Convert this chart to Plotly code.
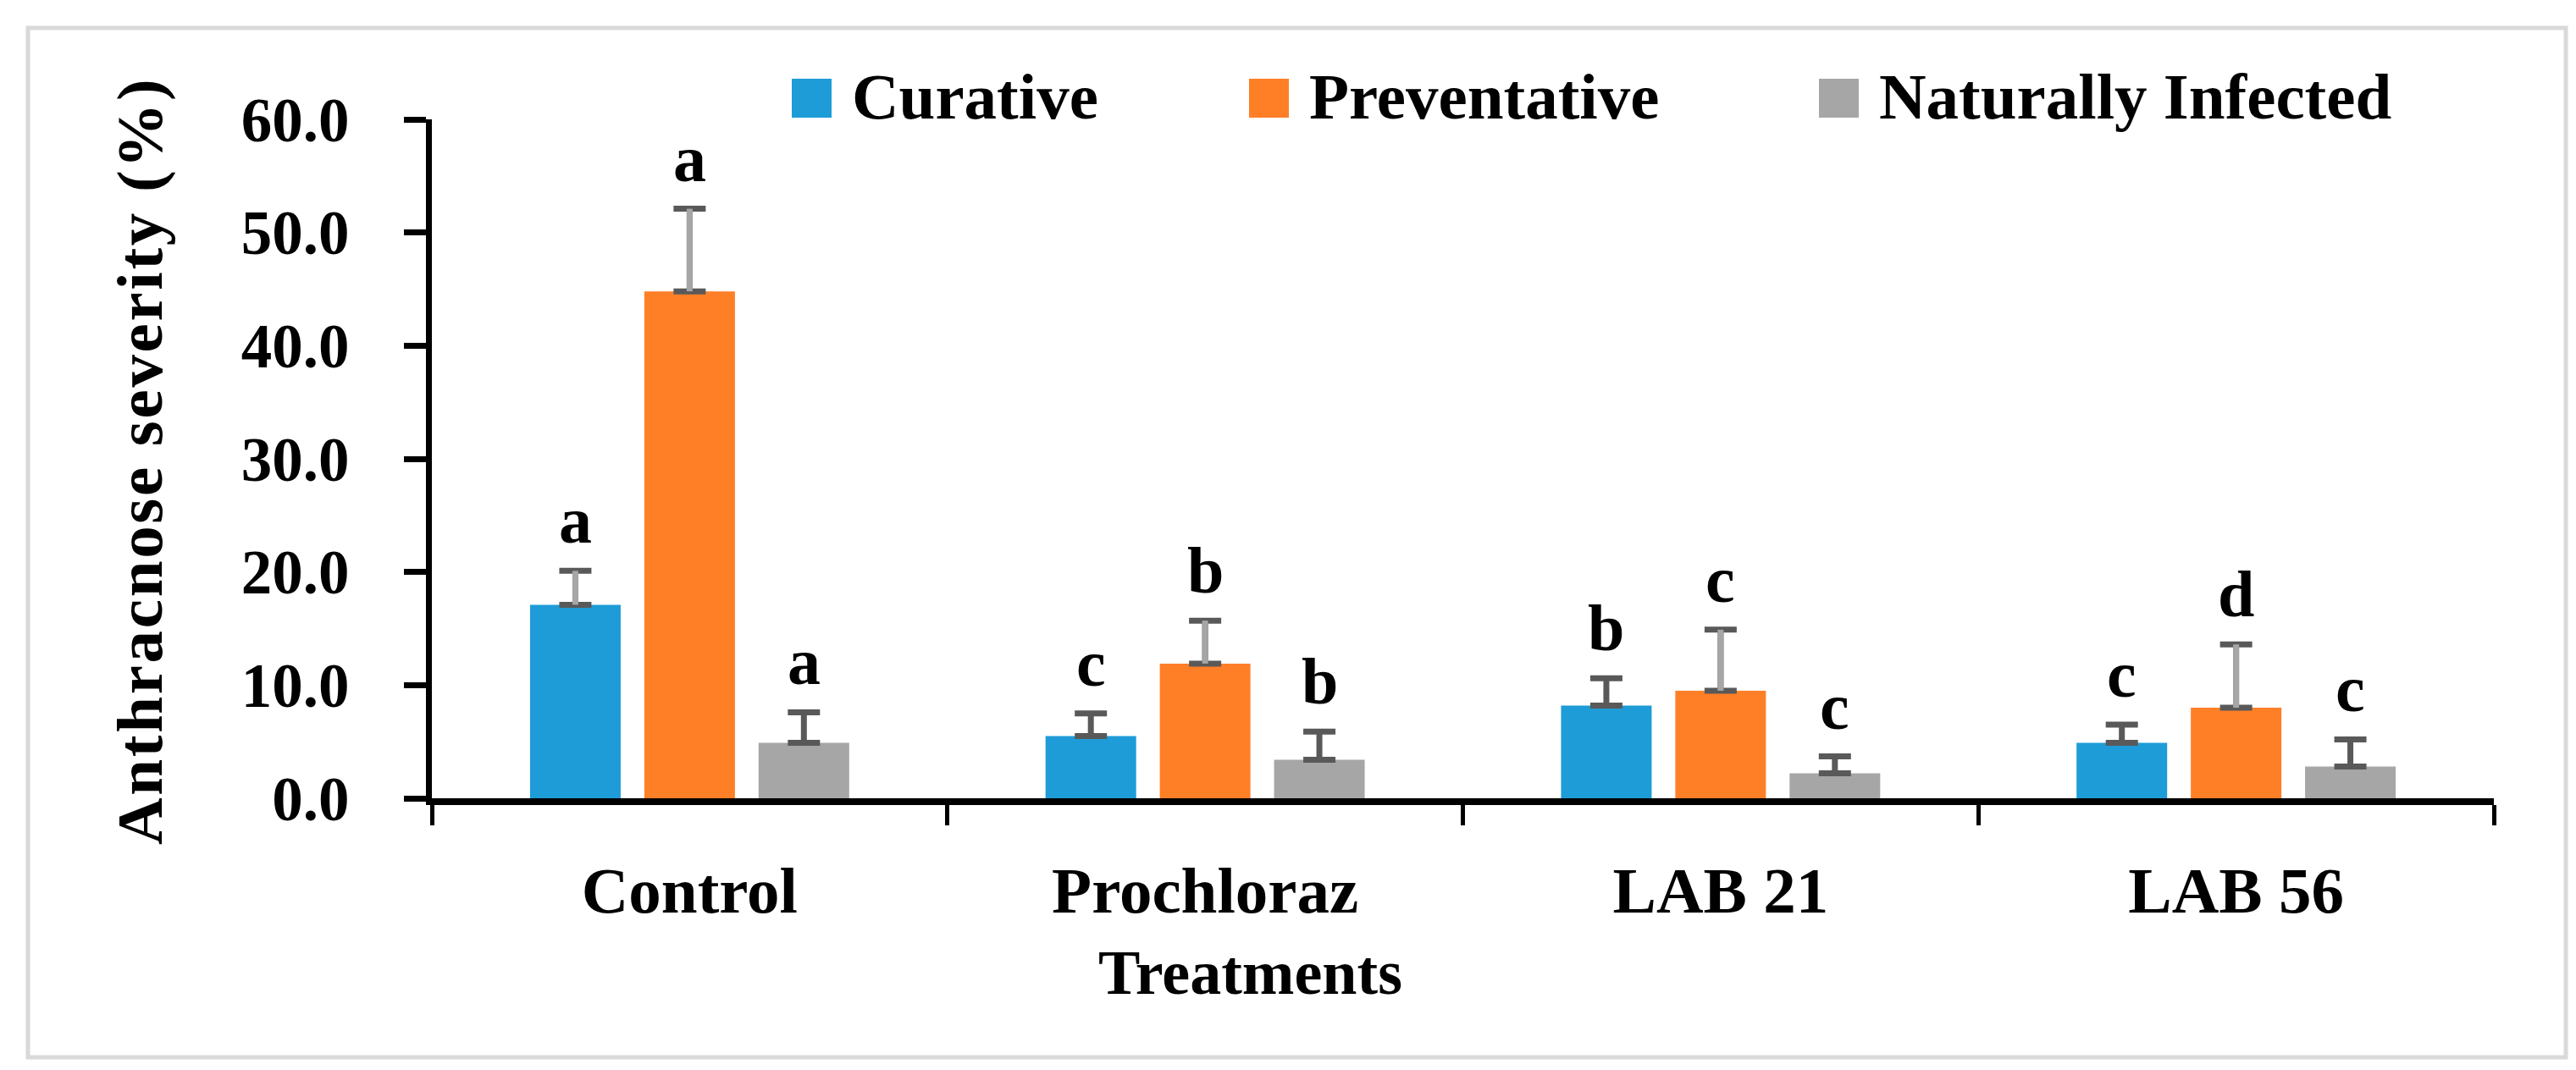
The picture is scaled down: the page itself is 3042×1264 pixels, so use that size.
import plotly.graph_objects as go

# ---------------- data ----------------
categories = ["Control", "Prochloraz", "LAB 21", "LAB 56"]
series_names = ["Curative", "Preventative", "Naturally Infected"]

curative = [17.1, 5.5, 8.2, 4.9]
curative_err = [3.0, 2.0, 2.4, 1.6]
preventative = [44.8, 11.9, 9.5, 8.0]
preventative_err = [7.3, 3.8, 5.4, 5.6]
natural = [4.9, 3.4, 2.2, 2.8]
natural_err = [2.7, 2.5, 1.5, 2.4]

curative_letters = ["a", "c", "b", "c"]
preventative_letters = ["a", "b", "c", "d"]
natural_letters = ["a", "b", "c", "c"]

y_tick_values = [0, 10, 20, 30, 40, 50, 60]

# ---------------- style ----------------
colors = ["#1E9CD7", "#FF7F27", "#A6A6A6"]
cap_color = "#595959"
light_stem = "#A6A6A6"
# which points have a light-gray error stem (style only)
light_stem_flags = [[True, False, False, False],
                    [True, True, True, True],
                    [False, False, False, False]]

FONT = "Liberation Serif"
W, H = 3042, 1264
L, R, T, B = 502, 105, 133, 329
BARGAP = 0.335
GROUPGAP = 0.207

values = [curative, preventative, natural]
errors = [curative_err, preventative_err, natural_err]
letters = [curative_letters, preventative_letters, natural_letters]

pw = W - L - R
ph = H - T - B


def px_x(px):
    return (px - L) / pw


def px_y(py):
    return (H - B - py) / ph


fig = go.Figure()

for i, name in enumerate(series_names):
    fig.add_trace(go.Bar(
        x=categories, y=values[i], name=name,
        marker=dict(color=colors[i], line=dict(width=0)),
        offsetgroup=str(i), showlegend=False,
        error_y=dict(type="data", symmetric=False, array=errors[i],
                     arrayminus=[0] * len(categories),
                     color=cap_color, thickness=7, width=19, visible=True),
    ))
    # light-gray stems drawn over the dark ones where needed
    stem_err = [e if f else 0 for e, f in zip(errors[i], light_stem_flags[i])]
    fig.add_trace(go.Bar(
        x=categories, y=values[i],
        marker=dict(color="rgba(0,0,0,0)", line=dict(width=0)),
        offsetgroup=str(i), showlegend=False, hoverinfo="skip",
        error_y=dict(type="data", symmetric=False, array=stem_err,
                     arrayminus=[0] * len(categories),
                     color=light_stem, thickness=7, width=0, visible=True),
    ))

annotations = []
slot = (1 - BARGAP) / 3
for i in range(3):
    for j in range(len(categories)):
        annotations.append(dict(
            x=j + (i - 1) * slot, y=values[i][j] + errors[i][j],
            xref="x", yref="y", text=letters[i][j], showarrow=False,
            xanchor="center", yanchor="bottom", yshift=14,
            font=dict(family=FONT, size=78, color="black", weight="bold"),
        ))

# manual legend
legend_square_x = [927, 1467, 2140]
shapes = []
for i, name in enumerate(series_names):
    x0 = legend_square_x[i]
    shapes.append(dict(type="rect", xref="paper", yref="paper",
                       x0=px_x(x0), x1=px_x(x0 + 47), y0=px_y(131), y1=px_y(85),
                       fillcolor=colors[i], line=dict(width=0)))
    annotations.append(dict(
        x=px_x(x0 + 69), y=px_y(61), xref="paper", yref="paper",
        text=name, showarrow=False, xanchor="left", yanchor="top",
        font=dict(family=FONT, size=77, color="black", weight="bold"),
    ))

# outer border
shapes.append(dict(type="rect", xref="paper", yref="paper",
                   x0=px_x(25), x1=px_x(3022), y0=px_y(1241), y1=px_y(25),
                   line=dict(color="#D9D9D9", width=5), fillcolor="rgba(0,0,0,0)",
                   layer="below"))

# axis titles
annotations.append(dict(
    x=px_x(1468), y=px_y(1098), xref="paper", yref="paper",
    text="Treatments", showarrow=False, xanchor="center", yanchor="top",
    font=dict(family=FONT, size=74, color="black", weight="bold"),
))
annotations.append(dict(
    x=px_x(157), y=px_y(537), xref="paper", yref="paper",
    text='<span style="letter-spacing:2.7px">Anthracnose severity (%)</span>',
    showarrow=False, textangle=-90,
    xanchor="center", yanchor="middle",
    font=dict(family=FONT, size=77, color="black", weight="bold"),
))

fig.update_layout(
    width=W, height=H,
    margin=dict(l=L, r=R, t=T, b=B, autoexpand=False),
    paper_bgcolor="white", plot_bgcolor="white",
    barmode="group", bargap=BARGAP, bargroupgap=GROUPGAP,
    showlegend=False,
    annotations=annotations, shapes=shapes,
    xaxis=dict(
        type="category", categoryorder="array", categoryarray=categories,
        showline=True, linecolor="black", linewidth=8,
        ticks="outside", tickson="boundaries", ticklen=24, tickwidth=5,
        tickcolor="black", showgrid=False, zeroline=False,
        tickfont=dict(family=FONT, size=77, color="black", weight="bold"),
        ticklabelstandoff=35,
    ),
    yaxis=dict(
        range=[0, 60], tickvals=y_tick_values, tickformat=".1f",
        showline=True, linecolor="black", linewidth=7,
        ticks="outside", ticklen=26, tickwidth=7, tickcolor="black",
        showgrid=False, zeroline=False,
        tickfont=dict(family=FONT, size=73, color="black", weight="bold"),
        ticklabelstandoff=50,
    ),
)

fig.write_html("out.html")
